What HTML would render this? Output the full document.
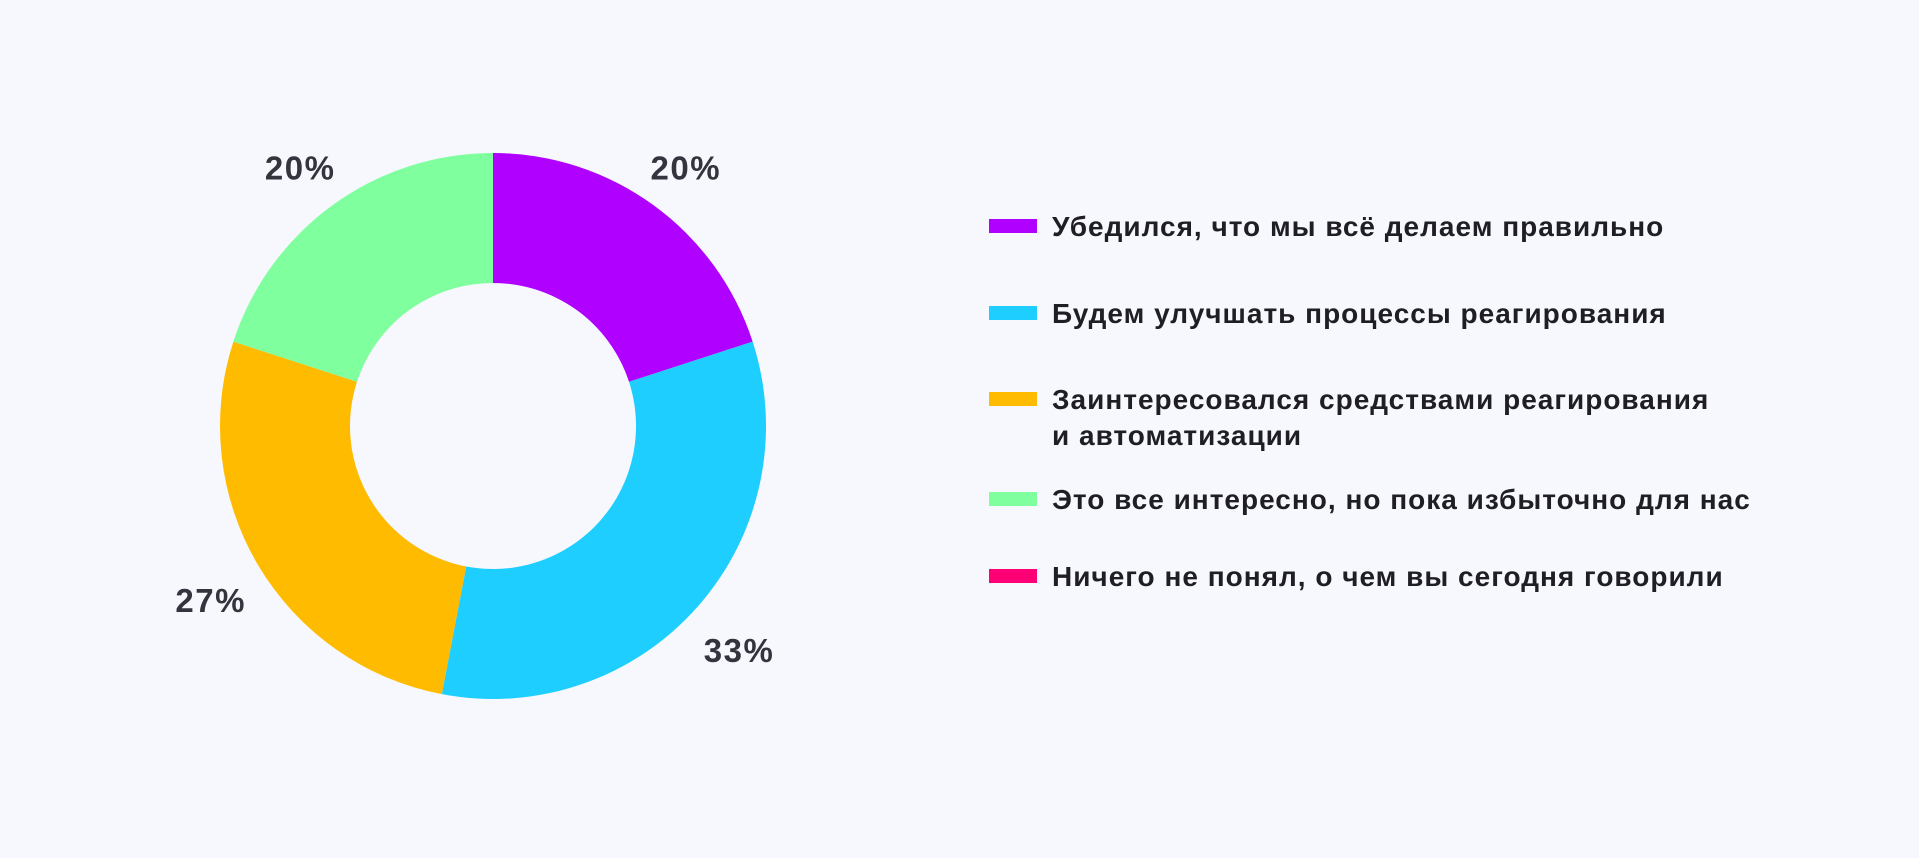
<!DOCTYPE html>
<html><head><meta charset="utf-8"><style>
html,body{margin:0;padding:0;background:#F7F8FD;}
body{width:1919px;height:853px;overflow:hidden;font-family:"Liberation Sans","DejaVu Sans",sans-serif;}
</style></head><body>
<svg id="chart" width="1919" height="853" viewBox="0 0 1919 853" xmlns="http://www.w3.org/2000/svg">
<rect width="1919" height="853" fill="#F7F8FD"/>
<g id="slices"></g><g id="labels"></g><g id="legend"></g>
</svg>
<script>
const categories = ["Убедился, что мы всё делаем правильно","Будем улучшать процессы реагирования","Заинтересовался средствами реагирования|и автоматизации","Это все интересно, но пока избыточно для нас","Ничего не понял, о чем вы сегодня говорили"];
const values = [20, 33, 27, 20, 0];
const colors = ["#B000FF","#1ECEFF","#FFBB00","#80FF9E","#FF0077"];
const NS="http://www.w3.org/2000/svg";
const cx=493, cy=426, R=273, r=143, LR=328;
const total=values.reduce((a,b)=>a+b,0);
function pt(rad,a){return [cx+rad*Math.sin(a), cy-rad*Math.cos(a)];}
const gS=document.getElementById('slices'), gL=document.getElementById('labels'), gG=document.getElementById('legend');
let acc=0;
values.forEach((v,i)=>{
  if(v<=0) return;
  const a0=acc/total*2*Math.PI, a1=(acc+v)/total*2*Math.PI; acc+=v;
  const large=(a1-a0)>Math.PI?1:0;
  const p0=pt(R,a0),p1=pt(R,a1),q1=pt(r,a1),q0=pt(r,a0);
  const p=document.createElementNS(NS,'path');
  p.setAttribute('d',`M${p0[0]},${p0[1]} A${R},${R} 0 ${large} 1 ${p1[0]},${p1[1]} L${q1[0]},${q1[1]} A${r},${r} 0 ${large} 0 ${q0[0]},${q0[1]} Z`);
  p.setAttribute('fill',colors[i]);
  
  
  gS.appendChild(p);
  const m=pt(LR,(a0+a1)/2);
  const t=document.createElementNS(NS,'text');
  t.setAttribute('x',m[0]);t.setAttribute('y',m[1]+19);
  t.setAttribute('text-anchor','middle');t.setAttribute('font-size','33');t.setAttribute('font-weight','bold');t.setAttribute('letter-spacing','1.5');t.setAttribute('fill','#34343F');
  t.textContent=Math.round(v/total*100)+'%';
  
  
  gL.appendChild(t);
});
const rowY=[226,313,399,499,576];
categories.forEach((c,i)=>{
  const g=document.createElementNS(NS,'g');
  
  
  const s=document.createElementNS(NS,'rect');
  s.setAttribute('x',989);s.setAttribute('y',rowY[i]-7);s.setAttribute('width',48);s.setAttribute('height',14);s.setAttribute('fill',colors[i]);
  
  
  g.appendChild(s);
  c.split('|').forEach((line,j)=>{
    const t=document.createElementNS(NS,'text');
    t.setAttribute('x',1052);t.setAttribute('y',rowY[i]+10+j*36);
    t.setAttribute('font-size','28');t.setAttribute('font-weight','bold');t.setAttribute('letter-spacing','1');t.setAttribute('fill','#1E1E24');
    t.textContent=line;
    
    
    g.appendChild(t);
  });
  gG.appendChild(g);
});
</script>
</body></html>
